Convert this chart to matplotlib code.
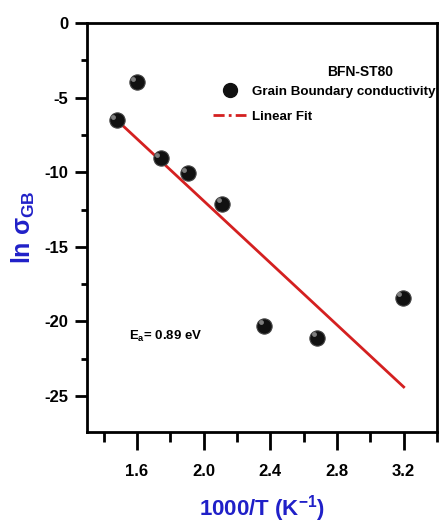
import numpy as np
import matplotlib.pyplot as plt
import matplotlib.transforms as mtransforms
from matplotlib.lines import Line2D

plt.rcParams['font.family'] = ['Liberation Sans', 'DejaVu Sans']
plt.rcParams['font.weight'] = 'bold'
plt.rcParams['axes.labelweight'] = 'bold'
plt.rcParams['mathtext.fontset'] = 'custom'
plt.rcParams['mathtext.rm'] = 'Liberation Sans:bold'
plt.rcParams['mathtext.it'] = 'Liberation Sans:bold'
plt.rcParams['mathtext.bf'] = 'Liberation Sans:bold'

# grain boundary conductivity vs inverse temperature
inv_T = [1.48, 1.60, 1.743, 1.905, 2.113, 2.364, 2.68, 3.194]
ln_sigma_gb = [-6.5, -3.95, -9.05, -10.05, -12.1, -20.3, -21.1, -18.4]

# Arrhenius linear fit
fit_slope = -10.4
fit_intercept = 8.89
fit_range = [1.48, 3.2]

x_ticks = [1.6, 2.0, 2.4, 2.8, 3.2]
y_ticks = [0, -5, -10, -15, -20, -25]

blue = '#2020c8'
red = '#d42020'

fig = plt.figure(figsize=(4.41, 5.26), dpi=100)
ax = fig.add_axes([0.197, 0.179, 0.794, 0.777])

xf = np.array(fit_range)
ax.plot(xf, fit_slope * xf + fit_intercept, color=red, lw=2.0, zorder=2)

# shaded sphere markers: dark body + small highlight
ax.plot(inv_T, ln_sigma_gb, 'o', color='#111111', ms=11, mec='#444444', mew=0.8, zorder=3)
hl = ax.transData + mtransforms.ScaledTranslation(-2.5 / 72, 2.5 / 72, fig.dpi_scale_trans)
ax.plot(inv_T, ln_sigma_gb, 'o', color='#9a9a9a', ms=3.5, mew=0, alpha=0.8,
        transform=hl, zorder=4)

ax.set_xlim(1.3, 3.4)
ax.set_ylim(-27.4, 0)
ax.set_xticks(x_ticks)
ax.set_xticks(np.arange(1.4, 3.41, 0.4), minor=True)
ax.set_yticks(y_ticks)
ax.set_yticks(np.arange(-2.5, -27.4, -5), minor=True)
ax.set_xticklabels([f'{v:.1f}' for v in x_ticks])
ax.set_yticklabels([str(v) for v in y_ticks])

for s in ax.spines.values():
    s.set_linewidth(2.0)
ax.tick_params(axis='x', which='major', direction='out', length=13, width=2,
               labelsize=12, pad=10)
ax.tick_params(axis='x', which='minor', direction='out', length=7, width=2)
ax.tick_params(axis='y', which='major', direction='out', length=8.5, width=2,
               labelsize=12, pad=5)
ax.tick_params(axis='y', which='minor', direction='out', length=4.5, width=2)
ax.tick_params(top=False, right=False)

ax.set_xlabel(r'1000/T (K$^{\mathbf{-1}}$)', color=blue, fontsize=16, labelpad=10)
ax.set_ylabel(r'ln $\sigma_{\mathrm{GB}}$', color=blue, fontsize=18, labelpad=5)

ax.text(2.94, -3.28, 'BFN-ST80', fontsize=10, ha='center', va='center')
ax.text(1.55, -21.0, r'E$_{\mathrm{a}}$= 0.89 eV', fontsize=9.5, ha='left', va='center')

handles = [
    Line2D([], [], ls='none', marker='o', color='#111111', ms=10),
    Line2D([], [], color=red, lw=2, ls=(0, (4, 1.5, 1, 1.5))),
]
ax.legend(handles, ['Grain Boundary conductivity', 'Linear Fit'],
          loc='upper left', bbox_to_anchor=(0.345, 0.86), frameon=False,
          fontsize=9.6, handlelength=2.5, handletextpad=0.4, labelspacing=0.95,
          borderaxespad=0.0)

fig.savefig('out.png', dpi=100)
